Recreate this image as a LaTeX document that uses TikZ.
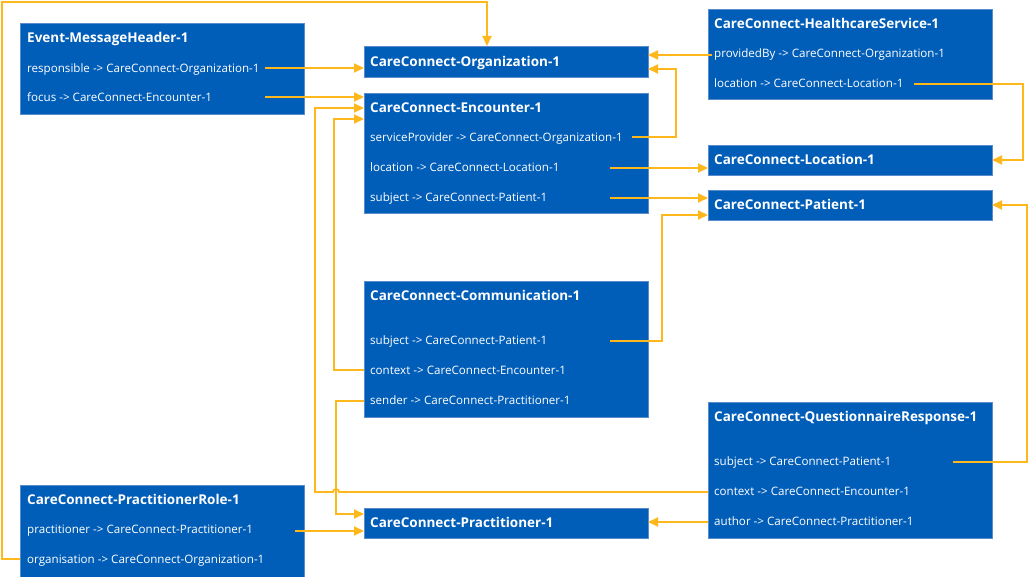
\documentclass[tikz,border=0pt]{standalone}
\usepackage{fontspec}
\setmainfont{Open Sans}
\usetikzlibrary{arrows.meta,calc}
\definecolor{boxblue}{RGB}{0,94,184}
\definecolor{boxedge}{RGB}{90,140,205}
\definecolor{linkcol}{RGB}{255,184,28}
\newcommand{\rowfnt}{\fontsize{11.6pt}{13pt}\selectfont}
\newcommand{\titlefnt}{\fontsize{13.5pt}{15pt}\selectfont\bfseries}
\begin{document}
\begin{tikzpicture}[x=1pt,y=-1pt,
  box/.style={fill=boxblue,draw=boxedge,line width=0.8pt,anchor=north west,
    minimum width=284pt,inner sep=0pt,outer sep=0pt},
  boxtitle/.style={anchor=west,inner sep=0pt,text=white,font=\titlefnt,
    text height=12.5pt,text depth=2.5pt},
  boxrow/.style={anchor=west,inner sep=0pt,text=white,font=\rowfnt,
    text height=11pt,text depth=2.5pt},
  link/.style={draw=linkcol,line width=1.8pt,-{Triangle[length=10pt,width=9pt]}}]
\useasboundingbox (0,0) rectangle (1029,577);
\fill[white] (0,0) rectangle (1029,577);

% Event-MessageHeader-1
\node[box,minimum height=91pt] (mh) at (20,23) {};
\node[boxtitle] (mh-title) at (27,38) {Event-MessageHeader-1};
\node[boxrow] (mh-resp) at (27,68) {responsible -> CareConnect-Organization-1};
\node[boxrow] (mh-foc) at (27,97) {focus -> CareConnect-Encounter-1};

% CareConnect-Organization-1
\node[box,minimum height=31pt] (org) at (364,46) {};
\node[boxtitle] (org-title) at (370,62) {CareConnect-Organization-1};

% CareConnect-Encounter-1
\node[box,minimum height=120pt] (enc) at (364,93) {};
\node[boxtitle] (enc-title) at (370,108) {CareConnect-Encounter-1};
\node[boxrow] (enc-sp) at (370,137) {serviceProvider -> CareConnect-Organization-1};
\node[boxrow] (enc-loc) at (370,167) {location -> CareConnect-Location-1};
\node[boxrow] (enc-sub) at (370,197) {subject -> CareConnect-Patient-1};

% CareConnect-HealthcareService-1
\node[box,minimum height=90pt] (hs) at (708,9) {};
\node[boxtitle] (hs-title) at (714,24) {CareConnect-HealthcareService-1};
\node[boxrow] (hs-pb) at (714,53) {providedBy -> CareConnect-Organization-1};
\node[boxrow] (hs-loc) at (714,83) {location -> CareConnect-Location-1};

% CareConnect-Location-1
\node[box,minimum height=30pt] (loc) at (708,145) {};
\node[boxtitle] (loc-title) at (714,160) {CareConnect-Location-1};

% CareConnect-Patient-1
\node[box,minimum height=30pt] (pat) at (708,190) {};
\node[boxtitle] (pat-title) at (714,205) {CareConnect-Patient-1};

% CareConnect-Communication-1
\node[box,minimum height=136pt] (com) at (364,281) {};
\node[boxtitle] (com-title) at (370,296) {CareConnect-Communication-1};
\node[boxrow] (com-sub) at (370,340) {subject -> CareConnect-Patient-1};
\node[boxrow] (com-ctx) at (370,370) {context -> CareConnect-Encounter-1};
\node[boxrow] (com-snd) at (370,400) {sender -> CareConnect-Practitioner-1};

% CareConnect-QuestionnaireResponse-1
\node[box,minimum height=136pt] (qr) at (708,402) {};
\node[boxtitle] (qr-title) at (714,417) {CareConnect-QuestionnaireResponse-1};
\node[boxrow] (qr-sub) at (714,461) {subject -> CareConnect-Patient-1};
\node[boxrow] (qr-ctx) at (714,491) {context -> CareConnect-Encounter-1};
\node[boxrow] (qr-auth) at (714,521) {author -> CareConnect-Practitioner-1};

% CareConnect-PractitionerRole-1
\node[box,minimum height=92pt] (pr) at (20,485) {};
\node[boxtitle] (pr-title) at (27,499) {CareConnect-PractitionerRole-1};
\node[boxrow] (pr-prac) at (27,529) {practitioner -> CareConnect-Practitioner-1};
\node[boxrow] (pr-org) at (27,559) {organisation -> CareConnect-Organization-1};

% CareConnect-Practitioner-1
\node[box,minimum height=30pt] (prac) at (364,508) {};
\node[boxtitle] (prac-title) at (370,522) {CareConnect-Practitioner-1};

% connector start points
\coordinate (mh-resp-out) at (265,68);
\coordinate (mh-foc-out) at (265,97);
\coordinate (pr-org-out) at (pr.west |- 0,559);
\coordinate (pr-prac-out) at (295,531);
\coordinate (hs-pb-out) at (712,55);
\coordinate (hs-loc-out) at (914,84);
\coordinate (enc-sp-out) at (632,137);
\coordinate (enc-loc-out) at (610,168);
\coordinate (enc-sub-out) at (610,198);
\coordinate (com-sub-out) at (610,341);
\coordinate (com-ctx-in) at (com.west |- 0,370);
\coordinate (com-snd-in) at (com.west |- 0,401);
\coordinate (qr-sub-out) at (953,462);
\coordinate (qr-ctx-in) at (qr.west |- 0,492);
\coordinate (qr-auth-in) at (qr.west |- 0,522);

% references
\draw[link] (mh-resp-out) -- (mh-resp-out -| org.west);
\draw[link] (mh-foc-out) -- (mh-foc-out -| enc.west);
\draw[link] (pr-org-out) -- (2,559) -- (2,2) -| (org.north -| 487,0);
\draw[link] (pr-prac-out) -- (pr-prac-out -| prac.west);
\draw[link] (hs-pb-out) -- (hs-pb-out -| org.east);
\draw[link] (enc-sp-out) -| (676,69) -- (org.east |- 0,69);
\draw[link] (hs-loc-out) -- ++(109,0) |- (loc.east);
\draw[link] (enc-loc-out) -- (enc-loc-out -| loc.west);
\draw[link] (enc-sub-out) -- (enc-sub-out -| pat.west);
\draw[link] (com-sub-out) -| (662,215) -- (pat.west |- 0,215);
\draw[link] (qr-sub-out) -- ++(74,0) |- (pat.east);
\draw[link] (com-ctx-in) -- ++(-30,0) |- (enc.west |- 0,119);
\draw[link] (qr-ctx-in) -- (339,492)
  arc[start angle=0,end angle=180,radius=3pt] -- (315,492) |- (enc.west |- 0,108);
\draw[link] (com-snd-in) -- ++(-28,0) |- (prac.west |- 0,514);
\draw[link] (qr-auth-in) -- (qr-auth-in -| prac.east);
\end{tikzpicture}
\end{document}
